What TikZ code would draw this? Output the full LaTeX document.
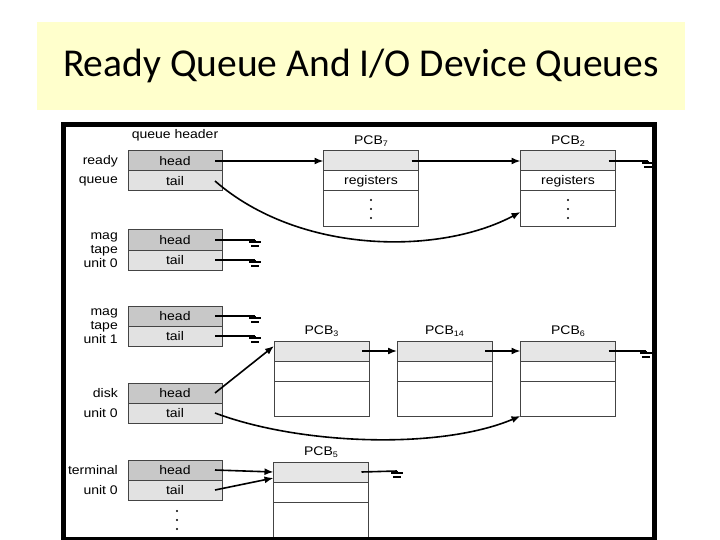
\documentclass[tikz,border=0pt]{standalone}
\usepackage{fontspec}
\setmainfont{Carlito}
\newfontfamily\figfont[FakeStretch=1.12]{Liberation Sans}
\usepackage{tikz}
\usetikzlibrary{positioning,calc,arrows.meta}
\definecolor{TitleYellow}{HTML}{FFFFCC}
\definecolor{HeadGray}{HTML}{C8C8C8}
\definecolor{TailGray}{HTML}{E2E2E2}
\definecolor{PcbGray}{HTML}{E6E6E6}
\definecolor{EdgeGray}{HTML}{444444}
\newcommand{\pcbname}[1]{PCB\raisebox{-2.5pt}{\fontsize{8}{8}\selectfont #1}}

\begin{document}
\begin{tikzpicture}[x=1pt,y=-1pt,
	hcell/.style={draw=EdgeGray, line width=1pt, fill=HeadGray, minimum width=94pt, minimum height=20pt,
		inner sep=0pt, outer sep=0pt, font=\figfont\fontsize{12.5}{14}\selectfont},
	tcell/.style={hcell, fill=TailGray},
	pcbtop/.style={draw=EdgeGray, line width=1pt, fill=PcbGray, minimum width=95pt, minimum height=20pt,
		inner sep=0pt, outer sep=0pt, font=\figfont\fontsize{12.5}{14}\selectfont},
	pcbcell/.style={pcbtop, fill=white},
	pcbbody/.style={pcbcell, minimum height=36pt},
	sidelbl/.style={font=\figfont\fontsize{12.5}{14}\selectfont, align=right, inner sep=0pt, anchor=east},
	pcblbl/.style={font=\figfont\fontsize{12.5}{14}\selectfont, inner sep=1pt},
	link/.style={-{Latex[length=9pt,width=7pt]}, line width=1.6pt},
	wire/.style={line width=1.6pt},
	gnd/.pic={\draw[line width=1.4pt] (0,0) -- (0,2) (-6,2) -- (6,2) (-4,6) -- (4,6);}
	]
	\useasboundingbox (0,0) rectangle (720,540);
	
	% ---------------------------------------------------------
	% TITLE
	% ---------------------------------------------------------
	
	\node[
	fill=TitleYellow,
	minimum width=648pt,
	minimum height=88pt,
	font=\fontsize{39.5}{44}\selectfont
	]
	(title) at (361,66)
	{Ready Queue And I/O Device Queues};
	
	% ---------------------------------------------------------
	% READY QUEUE
	% ---------------------------------------------------------
	
	\node[pcblbl] (qhdr) at (175,135) {queue header};
	
	\node[hcell] (rdyh) at (175,161) {head};
	\node[tcell, below=0pt of rdyh] (rdyt) {tail};
	\node[sidelbl] at ([xshift=-10pt]rdyh.west) {ready};
	\node[sidelbl] at ([xshift=-10pt]rdyt.west) {queue};
	
	\node[pcbtop] (p7top) at (371,161) {};
	\node[pcbcell, below=0pt of p7top] (p7reg) {registers};
	\node[pcbbody, below=0pt of p7reg] (p7body) {};
	\node[pcblbl, above=3pt of p7top] {\pcbname{7}};
	
	\node[pcbtop] (p2top) at (568,161) {};
	\node[pcbcell, below=0pt of p2top] (p2reg) {registers};
	\node[pcbbody, below=0pt of p2reg] (p2body) {};
	\node[pcblbl, above=3pt of p2top] {\pcbname{2}};
	
	\foreach \dy in {0,9,18}{
		\fill ($(p7body.north)+(0,9+\dy)$) circle (1.2pt);
		\fill ($(p2body.north)+(0,9+\dy)$) circle (1.2pt);
	}
	
	\coordinate (gp2) at (648,161);
	
	\draw[link] ([xshift=-7pt]rdyh.east) -- (p7top.west);
	\draw[link] ([xshift=-7pt]p7top.east) -- (p2top.west);
	\draw[wire] ([xshift=-7pt]p2top.east) -- (gp2);
	\pic at (gp2) {gnd};
	\draw[link] ([xshift=-7pt]rdyt.east) .. controls (300,255) and (440,255) .. ([yshift=-3pt]p2body.west);
	
	% ---------------------------------------------------------
	% MAG TAPE UNIT 0
	% ---------------------------------------------------------
	
	\node[hcell] (mt0h) at (175,240) {head};
	\node[tcell, below=0pt of mt0h] (mt0t) {tail};
	\node[sidelbl] at ([xshift=-10pt]mt0h.south west) {mag\\tape\\unit 0};
	
	\coordinate (gm0h) at (255,240);
	\coordinate (gm0t) at (255,260);
	\draw[wire] ([xshift=-7pt]mt0h.east) -- (gm0h);
	\draw[wire] ([xshift=-7pt]mt0t.east) -- (gm0t);
	\pic at (gm0h) {gnd};
	\pic at (gm0t) {gnd};
	
	% ---------------------------------------------------------
	% MAG TAPE UNIT 1
	% ---------------------------------------------------------
	
	\node[hcell] (mt1h) at (175,316) {head};
	\node[tcell, below=0pt of mt1h] (mt1t) {tail};
	\node[sidelbl] at ([xshift=-10pt]mt1h.south west) {mag\\tape\\unit 1};
	
	\coordinate (gm1h) at (255,316);
	\coordinate (gm1t) at (255,336);
	\draw[wire] ([xshift=-7pt]mt1h.east) -- (gm1h);
	\draw[wire] ([xshift=-7pt]mt1t.east) -- (gm1t);
	\pic at (gm1h) {gnd};
	\pic at (gm1t) {gnd};
	
	% ---------------------------------------------------------
	% DISK UNIT 0
	% ---------------------------------------------------------
	
	\node[hcell] (dskh) at (175,393) {head};
	\node[tcell, below=0pt of dskh] (dskt) {tail};
	\node[sidelbl] at ([xshift=-10pt]dskh.west) {disk};
	\node[sidelbl] at ([xshift=-10pt]dskt.west) {unit 0};
	
	\node[pcbtop] (p3top) at (321.5,351) {};
	\node[pcbcell, below=0pt of p3top] (p3mid) {};
	\node[pcbbody, minimum height=35pt, below=0pt of p3mid] (p3body) {};
	\node[pcblbl, above=3pt of p3top] {\pcbname{3}};
	
	\node[pcbtop] (p14top) at (444.5,351) {};
	\node[pcbcell, below=0pt of p14top] (p14mid) {};
	\node[pcbbody, minimum height=35pt, below=0pt of p14mid] (p14body) {};
	\node[pcblbl, above=3pt of p14top] {\pcbname{14}};
	
	\node[pcbtop] (p6top) at (568,351) {};
	\node[pcbcell, below=0pt of p6top] (p6mid) {};
	\node[pcbbody, minimum height=35pt, below=0pt of p6mid] (p6body) {};
	\node[pcblbl, above=3pt of p6top] {\pcbname{6}};
	
	\coordinate (gp6) at (646,351);
	
	\draw[link] ([xshift=-7pt]dskh.east) -- ([yshift=5pt]p3top.west);
	\draw[link] ([xshift=-7pt]p3top.east) -- (p14top.west);
	\draw[link] ([xshift=-7pt]p14top.east) -- (p6top.west);
	\draw[wire] ([xshift=-7pt]p6top.east) -- (gp6);
	\pic at (gp6) {gnd};
	\draw[link] ([xshift=-7pt]dskt.east) .. controls (300,445) and (440,450) .. (p6body.south west);
	
	% ---------------------------------------------------------
	% TERMINAL UNIT 0
	% ---------------------------------------------------------
	
	\node[hcell] (trmh) at (175,470) {head};
	\node[tcell, below=0pt of trmh] (trmt) {tail};
	\node[sidelbl] at ([xshift=-10pt]trmh.west) {terminal};
	\node[sidelbl] at ([xshift=-10pt]trmt.west) {unit 0};
	
	\node[pcbtop] (p5top) at (321,472) {};
	\node[pcbcell, below=0pt of p5top] (p5mid) {};
	\node[pcbbody, below=0pt of p5mid] (p5body) {};
	\node[pcblbl, above=3pt of p5top] {\pcbname{5}};
	
	\foreach \dy in {0,9,18}
		\fill ($(trmt.south)+(2,11+\dy)$) circle (1.2pt);
	
	\coordinate (gp5) at (397,471);
	
	\draw[link] ([xshift=-7pt]trmh.east) -- (p5top.west);
	\draw[link] ([xshift=-7pt]trmt.east) -- ($(p5top.west)+(0,6)$);
	\draw[wire] ([xshift=-7pt]p5top.east) -- (gp5);
	\pic at (gp5) {gnd};
	
	% ---------------------------------------------------------
	% FRAME
	% ---------------------------------------------------------
	
	\draw[line width=5pt] (63.5,124.5) rectangle (654,539);
	
\end{tikzpicture}
\end{document}
